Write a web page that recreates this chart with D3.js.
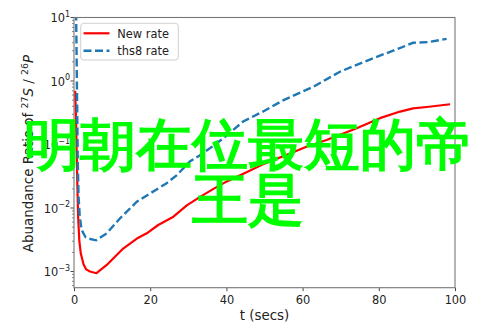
<!DOCTYPE html>
<html>
<head>
<meta charset="utf-8">
<script src="https://cdn.jsdelivr.net/npm/d3@7"></script>
<style>
  html, body { margin: 0; padding: 0; background: #fff; }
  svg { display: block; }
  text { font-family: "DejaVu Sans", sans-serif; }
</style>
</head>
<body>
<svg id="chart" width="493" height="329"></svg>
<script>
// ---- data ----
const newRateT = [0.3, 0.5, 0.7, 0.9, 1.1, 1.4, 1.8, 2.5, 3.2, 4.2, 5.9, 8.6, 12.9, 16.5, 19.1, 22.1, 26.1, 29.6, 33.1, 36.6, 40, 45, 50, 56.7, 61, 66.3, 74.2, 80.3, 85.6, 89, 92.6, 98.7];
const newRateV = [0.7, 0.3, 0.08, 0.02, 0.007, 0.003, 0.0019, 0.0013, 0.00108, 0.001, 0.00094, 0.00127, 0.0023, 0.0033, 0.004, 0.0054, 0.0073, 0.011, 0.015, 0.020, 0.026, 0.036, 0.05, 0.072, 0.092, 0.118, 0.18, 0.26, 0.33, 0.37, 0.39, 0.43];
const ths8T = [0.55, 0.7, 0.85, 1.0, 1.2, 1.5, 2.0, 3.0, 3.8, 5.8, 8.6, 12.1, 16.5, 20, 24.3, 27, 30.4, 33.9, 39.2, 44.4, 50, 55, 62.8, 69.8, 78.6, 85, 89, 93, 97.8];
const ths8V = [12, 2, 0.3, 0.05, 0.015, 0.0075, 0.0045, 0.0035, 0.0033, 0.0031, 0.004, 0.0069, 0.0126, 0.017, 0.0245, 0.033, 0.054, 0.073, 0.125, 0.23, 0.34, 0.5, 0.81, 1.4, 2.3, 3.2, 4.0, 4.1, 4.6];
const seriesNames = ["New rate", "ths8 rate"];
const xTicks = [0, 20, 40, 60, 80, 100];
const yTickExps = [-3, -2, -1, 0, 1];
const xDomain = [0, 100];
const yDomain = [5.56e-4, 10];
const overlayLines = ["明朝在位最短的帝", "王是"];

// ---- layout ----
const svg = d3.select("#chart");
const L = 74, R = 455, T = 17.5, B = 287.7;
const x = d3.scaleLinear().domain(xDomain).range([L, R]);
const y = d3.scaleLog().domain(yDomain).range([B, T]);

svg.append("defs").append("clipPath").attr("id", "clip")
  .append("rect").attr("x", L).attr("y", T).attr("width", R - L).attr("height", B - T);

const line = d3.line().x(d => x(d[0])).y(d => y(d[1]));
const newData = newRateT.map((t, i) => [t, newRateV[i]]);
const thsData = ths8T.map((t, i) => [t, ths8V[i]]);

const plot = svg.append("g").attr("clip-path", "url(#clip)");
plot.append("path").datum(newData).attr("d", line)
  .attr("fill", "none").attr("stroke", "#ff0000").attr("stroke-width", 2.2)
  .attr("stroke-linejoin", "round");
plot.append("path").datum(thsData).attr("d", line)
  .attr("fill", "none").attr("stroke", "#1f77b4").attr("stroke-width", 2.4)
  .attr("stroke-dasharray", "8,3.5");

// ---- axes ----
const tickColor = "#333";
const labelColor = "#222";
// x axis
const xAxis = svg.append("g").attr("transform", `translate(0,${B})`)
  .call(d3.axisBottom(x).tickValues(xTicks).tickSize(3.5).tickPadding(4).tickFormat(d3.format("d")));
xAxis.select(".domain").remove();
xAxis.selectAll("line").attr("stroke", tickColor).attr("stroke-width", 0.9);
xAxis.selectAll("text").attr("font-size", "11.4px").attr("fill", labelColor)
  .attr("font-family", "DejaVu Sans").attr("dy", null).attr("y", 16);

// y axis minor ticks
const minor = [];
for (let e = -4; e <= 1; e++) {
  for (let m = 2; m <= 9; m++) {
    const v = m * Math.pow(10, e);
    if (v >= yDomain[0] && v <= yDomain[1]) minor.push(v);
  }
}
svg.append("g").selectAll("line").data(minor).join("line")
  .attr("x1", L - 2).attr("x2", L).attr("y1", d => y(d)).attr("y2", d => y(d))
  .attr("stroke", tickColor).attr("stroke-width", 0.6);

const majors = yTickExps.map(e => Math.pow(10, e));
svg.append("g").selectAll("line").data(majors).join("line")
  .attr("x1", L - 3.5).attr("x2", L).attr("y1", d => y(d)).attr("y2", d => y(d))
  .attr("stroke", tickColor).attr("stroke-width", 0.9);

const yl = svg.append("g").selectAll("text").data(yTickExps).join("text")
  .attr("x", 70).attr("y", d => y(Math.pow(10, d)) + 4.5)
  .attr("text-anchor", "end").attr("font-size", "11.4px").attr("fill", labelColor);
yl.append("tspan").text("10");
yl.append("tspan").attr("font-size", "8px").attr("dy", -5.5)
  .text(d => (d < 0 ? "\u2212" + Math.abs(d) : String(d)));

// frame
svg.append("rect").attr("x", L).attr("y", T).attr("width", R - L).attr("height", B - T)
  .attr("fill", "none").attr("stroke", "#777").attr("stroke-width", 1.1);

// axis labels
svg.append("text").attr("x", (L + R) / 2).attr("y", 320).attr("text-anchor", "middle")
  .attr("font-size", "13.4px").attr("fill", labelColor).text("t (secs)");

const ylab = svg.append("text").attr("transform", `translate(32.5,${(T + B) / 2 + 1}) rotate(-90)`)
  .attr("text-anchor", "middle").attr("font-size", "13.4px").attr("fill", labelColor);
ylab.append("tspan").text("Abuandance Ratio of ");
ylab.append("tspan").attr("font-size", "9.4px").attr("dy", -5).text("27");
ylab.append("tspan").attr("font-style", "italic").attr("dy", 5).text("S");
ylab.append("tspan").text(" / ");
ylab.append("tspan").attr("font-size", "9.4px").attr("dy", -5).text("26");
ylab.append("tspan").attr("font-style", "italic").attr("dy", 5).text("P");

// legend
const lg = svg.append("g");
lg.append("rect").attr("x", 80.7).attr("y", 23.3).attr("width", 97.6).attr("height", 36.7)
  .attr("rx", 3).attr("fill", "#fff").attr("fill-opacity", 0.85)
  .attr("stroke", "#d0d0d0").attr("stroke-width", 1);
const legendStyles = [
  { color: "#ff0000", dash: null, w: 2.2, y: 33.3 },
  { color: "#1f77b4", dash: "8,3.5", w: 2.4, y: 50.7 }
];
seriesNames.forEach((name, i) => {
  const s = legendStyles[i];
  lg.append("line").attr("x1", 83.5).attr("x2", 109.5).attr("y1", s.y).attr("y2", s.y)
    .attr("stroke", s.color).attr("stroke-width", s.w).attr("stroke-dasharray", s.dash);
  lg.append("text").attr("x", 117.3).attr("y", s.y + 4.2).attr("font-size", "11.4px")
    .attr("fill", labelColor).text(name);
});

// overlay text
const ov = svg.append("g");
const ovY = [164, 218.5];
overlayLines.forEach((t, i) => {
  ov.append("text").attr("x", 248).attr("y", ovY[i]).attr("text-anchor", "middle")
    .attr("font-family", "'Noto Sans CJK SC', sans-serif").attr("font-weight", "bold")
    .attr("font-size", "56px").attr("fill", "#00ff00").text(t);
});
</script>
</body>
</html>
